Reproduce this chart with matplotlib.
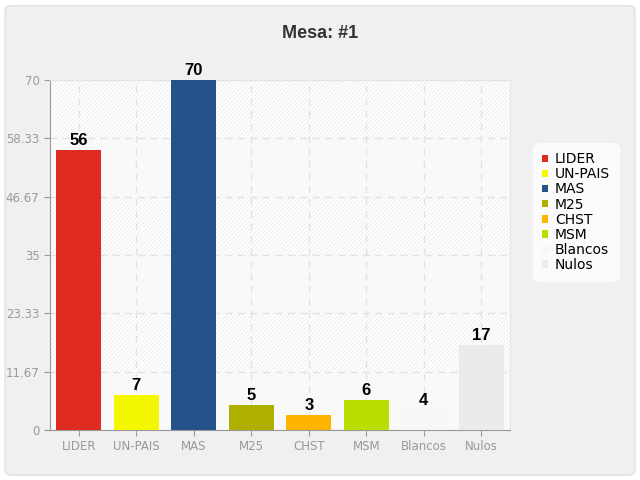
import numpy as np
import matplotlib
matplotlib.use("Agg")
import matplotlib.pyplot as plt
from matplotlib.patches import FancyBboxPatch, Rectangle

categories = ["LIDER", "UN-PAIS", "MAS", "M25", "CHST", "MSM", "Blancos", "Nulos"]
votes = [56, 7, 70, 5, 3, 6, 4, 17]
colors = ["#e02b22", "#f4f700", "#245289", "#afaf00", "#ffb400", "#bcdd00", "#f7f7f7", "#ebebeb"]
yticks = [0, 11.67, 23.33, 35, 46.67, 58.33, 70]
ytick_labels = ["0", "11.67", "23.33", "35", "46.67", "58.33", "70"]

plt.rcParams["font.family"] = ["DejaVu Sans"]
plt.rcParams["hatch.linewidth"] = 0.6
plt.rcParams["hatch.color"] = "#ebebeb"

fig = plt.figure(figsize=(6.4, 4.8), dpi=100)
fig.patch.set_facecolor("white")
# rounded panel background
panel = FancyBboxPatch((0.008, 0.01), 0.984, 0.978,
                       boxstyle="round,pad=0,rounding_size=0.01",
                       transform=fig.transFigure, facecolor="#f0f0f0",
                       edgecolor="#e0e0e0", linewidth=1, zorder=-5)
fig.patches.append(panel)

ax = fig.add_axes([0.078, 0.104, 0.719, 0.729])
ax.set_facecolor("#f9f9f9")
# alternating bands: hatched / plain
for i in range(len(yticks) - 1):
    if i % 2 == 1:
        ax.axhspan(yticks[i], yticks[i + 1], facecolor="white", edgecolor="#ebebeb",
                   hatch="////////", linewidth=0, zorder=0)

x = np.arange(len(categories))
ax.bar(x, votes, width=0.78, color=colors, zorder=3)
for xi, v in zip(x, votes):
    ax.annotate(str(v), (xi, v), xytext=(0, 1.5), textcoords="offset points",
                ha="center", va="bottom", fontsize=12, fontweight="bold",
                family="Liberation Sans", color="black", zorder=4)

ax.set_xlim(-0.5, len(categories) - 0.5)
ax.set_ylim(0, 70)
ax.set_yticks(yticks)
ax.set_yticklabels(ytick_labels)
ax.set_xticks(x)
ax.set_xticklabels(categories)
ax.tick_params(axis="both", colors="#999999", labelcolor="#999999", labelsize=8.5,
               length=4, pad=3.5)
ax.grid(True, color="#e2e2e2", linestyle=(0, (5, 4)), linewidth=1, zorder=1)
for side in ["top", "right"]:
    ax.spines[side].set_color("#e4e4e4")
for side in ["left", "bottom"]:
    ax.spines[side].set_color("#999999")

fig.text(0.5, 0.931, "Mesa: #1", ha="center", va="center", fontsize=13,
         fontweight="bold", family="Liberation Sans", color="#333333")

handles = [Rectangle((0, 0), 1, 1, facecolor=c) for c in colors]
leg = fig.legend(handles, categories, loc="center left", bbox_to_anchor=(0.826, 0.558),
                 frameon=True, fontsize=10, handlelength=0.45, handleheight=0.45,
                 handletextpad=0.5, labelspacing=0.08, borderpad=0.45)
leg.get_frame().set_facecolor("white")
leg.get_frame().set_edgecolor("white")
leg.get_frame().set_boxstyle("round,pad=0.2,rounding_size=0.5")
for t in leg.get_texts():
    t.set_color("black")

fig.savefig("out.png", dpi=100, facecolor=fig.get_facecolor())
